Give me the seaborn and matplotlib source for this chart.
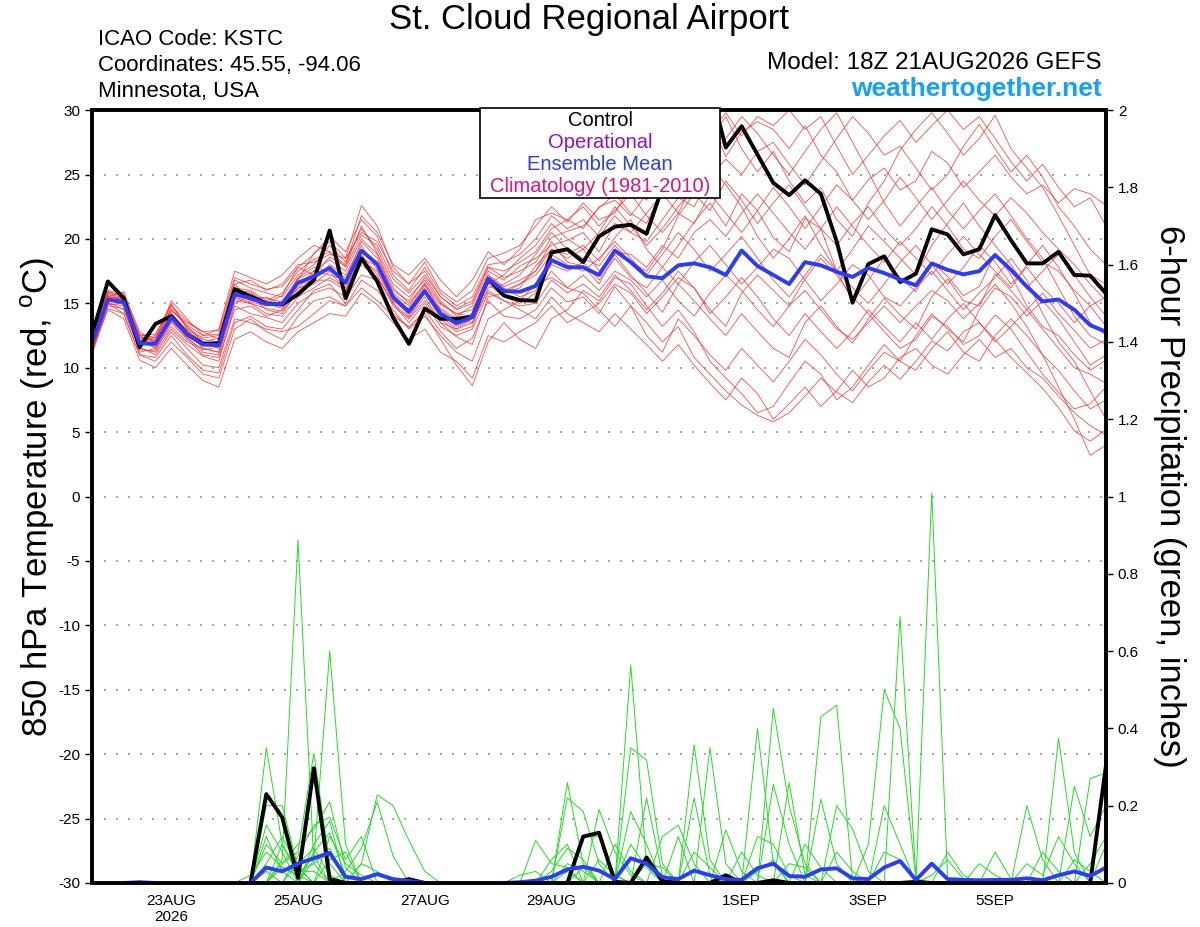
import matplotlib
matplotlib.use('Agg')
import matplotlib.pyplot as plt
from matplotlib.patches import Rectangle
import seaborn as sns
import pandas as pd

# 6-hourly GEFS output, 18Z 21AUG2026 + 16 days
times = pd.date_range('2026-08-21 18:00', periods=65, freq='6h')

tick_dates = ['2026-08-23', '2026-08-25', '2026-08-27', '2026-08-29',
              '2026-09-01', '2026-09-03', '2026-09-05']
tick_labels = ['23AUG\n2026', '25AUG', '27AUG', '29AUG', '1SEP', '3SEP', '5SEP']

temp_control = [
    12.6, 16.7, 15.4, 11.6, 13.4, 14.0, 12.6, 11.85, 11.9, 16.1,
    15.55, 15.0, 14.9, 15.7, 16.8, 20.65, 15.4, 18.5, 16.7, 13.9,
    11.85, 14.6, 13.8, 13.8, 13.95, 16.9, 15.6, 15.25, 15.2, 18.95,
    19.2, 18.2, 20.2, 20.95, 21.1, 20.4, 24.0, 27.5, 30.0, 31.8,
    27.1, 28.75, 26.55, 24.35, 23.4, 24.55, 23.5, 19.8, 15.05, 18.05,
    18.65, 16.65, 17.3, 20.75, 20.35, 18.8, 19.2, 21.85, 19.9, 18.1,
    18.1, 19.0, 17.2, 17.15, 15.75]

temp_mean = [
    11.9, 15.3, 15.1, 11.9, 11.85, 13.9, 12.6, 11.8, 11.75, 15.7,
    15.4, 14.95, 14.95, 16.6, 17.1, 17.75, 16.6, 19.1, 18.05, 15.5,
    14.35, 15.95, 14.2, 13.45, 13.95, 16.9, 15.95, 15.9, 16.35, 18.35,
    17.8, 17.8, 17.2, 19.1, 18.2, 17.1, 16.95, 17.95, 18.1, 17.8,
    17.2, 19.1, 17.9, 17.2, 16.5, 18.2, 17.95, 17.45, 17.05, 17.75,
    17.35, 16.85, 16.4, 18.1, 17.6, 17.25, 17.5, 18.75, 17.6, 16.3,
    15.15, 15.3, 14.5, 13.3, 12.8]

temp_members = [
    [11.5, 15.8, 15.4, 12.4, 12.0, 14.5, 13.2, 12.0, 12.3, 16.2, 16.0, 15.2, 15.8,
     17.5, 18.4, 19.0, 17.8, 20.3, 19.5, 16.9, 15.8, 17.2, 15.5, 14.6, 15.2, 17.8,
     17.0, 17.5, 18.2, 20.1, 20.6, 21.0, 22.4, 23.5, 22.0, 21.2, 23.8, 25.6, 27.9,
     29.2, 26.4, 28.3, 29.1, 28.5, 27.0, 28.8, 26.5, 25.2, 23.0, 24.6, 25.5, 23.8,
     24.5, 26.8, 25.9, 24.0, 25.2, 26.5, 24.8, 23.5, 24.2, 22.8, 23.9, 23.5, 22.6],
    [12.2, 14.8, 14.6, 11.5, 11.2, 13.0, 11.8, 10.9, 10.5, 14.8, 14.2, 13.9, 13.5,
     15.0, 15.8, 16.2, 15.5, 17.2, 16.8, 14.2, 13.1, 14.5, 12.8, 11.5, 12.3, 15.2,
     14.0, 13.8, 14.5, 16.2, 15.1, 15.5, 14.2, 16.3, 14.8, 13.5, 12.0, 13.2, 10.8,
     9.5, 8.2, 7.1, 6.3, 5.8, 6.5, 7.8, 9.2, 8.1, 7.3, 8.9, 10.2, 9.1,
     10.5, 12.1, 11.3, 12.8, 13.5, 12.2, 10.8, 9.6, 8.4, 6.9, 5.1, 4.3, 5.2],
    [11.0, 15.0, 14.2, 11.0, 10.8, 12.5, 11.0, 9.8, 9.6, 13.5, 14.0, 13.2, 13.0,
     14.5, 16.0, 16.5, 15.0, 18.2, 17.5, 15.0, 13.9, 15.5, 13.5, 12.4, 11.8, 15.5,
     15.8, 16.2, 17.9, 19.2, 18.8, 19.5, 18.3, 20.1, 21.5, 19.2, 17.8, 19.5, 21.3,
     22.8, 21.0, 23.5, 22.2, 20.1, 19.0, 21.6, 20.8, 17.5, 15.2, 16.8, 18.5, 17.0,
     15.9, 18.2, 17.1, 15.6, 16.3, 18.9, 17.2, 14.8, 13.2, 12.5, 11.0, 9.8, 10.6],
    [12.5, 15.5, 15.9, 12.6, 12.3, 14.8, 13.6, 12.8, 12.9, 17.0, 16.5, 16.1, 16.3,
     17.8, 17.2, 18.6, 17.9, 21.0, 18.9, 16.2, 15.0, 16.5, 14.9, 14.2, 14.5, 17.2,
     16.3, 16.8, 17.5, 19.8, 18.2, 17.9, 16.5, 18.8, 17.2, 15.8, 14.3, 16.5, 15.2,
     13.8, 12.5, 14.2, 12.8, 11.5, 10.8, 13.5, 14.8, 13.2, 11.9, 13.8, 15.4, 14.1,
     13.0, 15.5, 16.9, 15.2, 14.8, 17.3, 16.0, 14.5, 15.8, 14.2, 12.9, 11.5, 12.2],
    [11.8, 15.9, 15.6, 12.0, 11.6, 14.2, 12.9, 11.5, 11.2, 15.5, 15.1, 14.8, 15.2,
     16.8, 18.9, 19.8, 18.5, 22.6, 21.0, 17.8, 16.5, 18.2, 16.0, 15.1, 16.0, 18.5,
     18.9, 19.5, 21.0, 22.5, 21.3, 22.8, 21.5, 22.0, 24.2, 23.0, 25.8, 27.2, 26.0,
     27.8, 29.5, 27.0, 25.2, 26.8, 24.5, 22.8, 24.0, 21.5, 20.2, 22.8, 24.5, 26.9,
     28.5, 29.8, 28.2, 26.5, 27.8, 29.6, 27.0, 25.5, 24.0, 21.8, 19.5, 17.2, 16.5],
    [11.2, 14.5, 13.8, 10.6, 10.0, 11.5, 10.2, 9.0, 8.5, 12.2, 12.8, 12.0, 11.5,
     12.8, 13.5, 14.2, 14.0, 15.8, 14.9, 13.5, 12.2, 13.0, 11.2, 10.5, 9.2, 12.5,
     12.0, 12.8, 13.5, 14.8, 13.5, 14.2, 15.0, 16.5, 15.8, 14.2, 15.5, 17.0, 16.2,
     14.5, 13.2, 15.8, 17.2, 16.0, 14.8, 16.9, 18.5, 17.2, 15.5, 14.2, 12.8, 11.5,
     12.2, 14.0, 13.2, 11.8, 12.5, 14.1, 13.0, 11.2, 9.5, 8.1, 6.8, 7.2, 8.5],
    [12.0, 15.2, 15.0, 11.8, 11.9, 13.8, 12.4, 11.2, 11.0, 15.0, 15.6, 14.5, 14.2,
     16.0, 17.0, 17.8, 16.5, 19.0, 18.2, 15.6, 14.5, 16.2, 14.0, 13.0, 13.8, 16.5,
     15.5, 15.0, 15.8, 17.5, 16.2, 15.8, 14.5, 13.2, 14.8, 12.5, 11.2, 13.8, 12.5,
     11.0, 9.8, 11.5, 10.2, 8.9, 10.5, 12.2, 11.0, 9.5, 8.2, 9.8, 11.2, 10.5,
     12.5, 14.2, 13.0, 12.0, 14.5, 16.2, 15.5, 14.0, 15.2, 13.8, 12.0, 10.2, 11.0],
    [11.6, 15.6, 15.2, 12.2, 12.5, 15.0, 13.0, 12.2, 12.0, 16.5, 15.2, 15.5, 14.8,
     16.2, 17.5, 17.2, 16.8, 19.8, 18.5, 16.0, 15.2, 17.0, 15.2, 14.0, 14.8, 17.5,
     16.8, 17.9, 18.5, 19.5, 19.9, 20.5, 19.0, 21.2, 20.5, 19.8, 21.5, 23.2, 22.5,
     24.8, 26.2, 25.0, 26.8, 27.5, 25.8, 24.2, 26.0, 27.8, 29.5, 28.2, 26.5, 27.2,
     25.5, 23.8, 25.0, 27.2, 28.9, 27.0, 25.2, 26.5, 24.8, 22.5, 21.0, 19.2, 18.0],
    [12.3, 15.4, 15.5, 12.5, 12.0, 14.0, 12.7, 12.0, 11.8, 15.8, 15.2, 15.0, 14.6,
     16.5, 16.8, 18.0, 17.2, 19.5, 17.6, 15.2, 14.2, 16.0, 14.5, 13.6, 14.2, 17.0,
     16.2, 15.5, 16.0, 18.0, 17.5, 18.2, 16.8, 18.5, 17.0, 16.2, 17.8, 16.5, 18.2,
     19.5, 18.0, 16.5, 17.8, 19.2, 18.5, 16.8, 15.2, 16.5, 18.0, 17.2, 15.5, 14.8,
     16.2, 17.5, 16.0, 14.5, 15.8, 17.0, 18.5, 16.8, 14.2, 12.0, 10.5, 8.2, 6.0],
    [11.9, 15.0, 14.8, 11.2, 11.5, 13.2, 12.0, 11.5, 11.2, 15.2, 15.0, 14.2, 14.0,
     15.5, 16.2, 17.0, 16.2, 18.5, 17.9, 15.5, 14.0, 15.8, 13.8, 12.8, 13.2, 16.8,
     15.8, 16.5, 17.2, 18.8, 18.0, 17.5, 18.5, 19.8, 18.5, 17.2, 18.8, 20.5, 19.2,
     17.5, 18.8, 20.2, 18.5, 16.8, 15.5, 17.2, 18.8, 17.5, 16.2, 15.0, 16.5, 18.2,
     19.5, 18.0, 16.5, 17.8, 19.5, 18.2, 16.5, 17.8, 16.2, 15.0, 13.5, 14.8, 13.2],
    [12.1, 15.3, 15.0, 12.1, 11.8, 14.0, 12.5, 11.7, 12.0, 15.6, 15.8, 14.9, 15.0,
     17.0, 17.8, 17.5, 17.0, 19.2, 18.0, 15.2, 14.6, 16.4, 14.6, 13.8, 13.5, 16.2,
     16.5, 17.2, 18.8, 20.5, 19.2, 18.5, 17.9, 19.5, 18.2, 17.5, 19.2, 21.8, 23.5,
     22.2, 24.5, 23.0, 21.2, 22.8, 24.2, 22.5, 20.8, 19.5, 21.2, 22.5, 20.8, 19.5,
     20.8, 22.5, 21.0, 19.2, 18.5, 20.2, 21.5, 19.8, 18.2, 17.5, 16.0, 14.8, 15.5],
    [11.4, 14.9, 15.0, 11.6, 11.0, 12.8, 11.5, 10.2, 10.0, 13.8, 13.5, 13.0, 12.8,
     13.2, 14.2, 15.2, 14.8, 16.2, 15.2, 14.0, 13.2, 14.2, 12.2, 10.2, 8.6, 12.0,
     13.5, 12.2, 11.5, 13.8, 14.5, 16.0, 15.2, 17.0, 16.5, 14.8, 13.2, 14.5, 12.8,
     10.5, 9.2, 8.0, 6.5, 7.0, 8.8, 10.5, 9.5, 7.5, 8.5, 10.2, 11.8, 10.5,
     9.8, 11.5, 12.8, 11.2, 10.5, 12.5, 13.8, 12.5, 11.0, 9.8, 8.2, 6.8, 7.5],
    [12.4, 15.7, 15.3, 12.3, 12.2, 14.6, 13.3, 12.5, 12.6, 16.8, 16.2, 15.8, 15.5,
     17.2, 18.0, 19.5, 18.2, 20.8, 19.2, 16.5, 15.5, 16.8, 15.0, 14.2, 14.0, 16.5,
     17.2, 18.5, 19.5, 21.2, 20.0, 19.2, 20.5, 22.5, 21.0, 19.5, 20.8, 22.5, 24.0,
     25.8, 24.2, 22.5, 20.2, 18.5, 20.0, 21.8, 19.5, 17.5, 19.2, 21.0, 19.8, 18.5,
     17.2, 19.5, 21.2, 22.8, 21.0, 19.5, 18.0, 16.2, 17.5, 18.8, 17.2, 15.5, 14.0],
    [11.7, 15.1, 14.5, 11.4, 11.3, 13.5, 12.2, 11.0, 10.8, 14.5, 14.8, 14.0, 14.5,
     16.2, 16.5, 17.5, 16.0, 18.0, 17.0, 15.0, 13.5, 15.0, 13.2, 12.5, 13.0, 15.8,
     15.2, 14.5, 13.8, 15.5, 14.2, 13.5, 12.8, 14.2, 13.0, 11.8, 10.5, 11.8, 10.2,
     8.8, 7.5, 9.2, 8.0, 6.0, 7.2, 8.5, 7.0, 8.2, 9.8, 8.5, 9.2, 10.8,
     11.5, 10.2, 9.5, 11.0, 12.2, 10.8, 11.5, 10.0, 9.2, 7.8, 6.5, 5.5, 4.8],
    [12.0, 15.5, 15.3, 12.0, 12.1, 14.2, 12.9, 12.0, 11.5, 15.9, 15.5, 15.4, 15.1,
     16.9, 17.5, 18.4, 17.5, 20.0, 18.8, 15.8, 14.8, 16.6, 14.2, 13.2, 13.8, 17.2,
     16.0, 16.5, 17.5, 19.2, 18.5, 19.2, 17.5, 19.0, 18.8, 17.8, 19.5, 18.5, 20.5,
     21.5, 20.2, 22.0, 23.5, 22.0, 20.5, 19.2, 20.8, 22.5, 21.0, 19.5, 18.2, 19.8,
     18.5, 17.2, 18.8, 20.2, 18.8, 17.5, 16.2, 18.0, 19.5, 17.8, 15.8, 13.5, 12.5],
    [11.3, 15.2, 14.9, 11.9, 12.4, 14.4, 13.5, 12.8, 12.2, 16.0, 15.9, 15.0, 15.6,
     17.8, 18.8, 20.2, 19.0, 21.5, 20.2, 17.2, 16.0, 17.8, 15.8, 14.8, 15.5, 18.0,
     18.2, 18.8, 20.0, 21.8, 20.8, 21.5, 20.2, 21.8, 20.5, 22.0, 23.5, 22.0, 24.5,
     26.5, 27.8, 29.5, 28.2, 26.5, 25.0, 26.8, 28.5, 29.8, 27.5, 25.2, 22.8, 21.0,
     22.5, 24.0, 22.2, 20.8, 22.2, 23.5, 21.8, 20.0, 18.5, 16.2, 14.0, 12.5, 11.8],
    [11.5, 14.6, 14.2, 11.0, 10.5, 12.0, 10.8, 9.5, 9.2, 13.0, 13.8, 12.8, 12.2,
     14.0, 15.2, 15.5, 14.8, 16.8, 16.0, 14.5, 13.0, 14.0, 12.5, 11.2, 10.5, 13.8,
     14.5, 15.2, 16.5, 17.0, 16.2, 17.2, 16.0, 17.5, 16.8, 15.5, 16.8, 15.2, 14.0,
     15.8, 17.2, 16.0, 14.5, 13.2, 14.8, 16.0, 14.5, 13.0, 12.2, 13.5, 14.8, 13.5,
     14.8, 16.0, 15.2, 13.8, 15.0, 16.5, 15.0, 13.2, 11.0, 8.5, 6.0, 3.2, 4.0],
    [12.2, 16.0, 15.8, 12.8, 12.0, 15.2, 13.8, 12.5, 13.0, 17.5, 17.0, 16.5, 17.2,
     18.5, 19.5, 19.0, 18.0, 21.8, 20.5, 18.0, 17.2, 18.5, 16.8, 15.5, 16.8, 19.0,
     18.0, 19.2, 21.5, 22.0, 21.5, 20.8, 22.5, 23.0, 21.8, 23.5, 25.0, 24.0, 26.5,
     28.2, 29.8, 28.0, 29.5, 28.8, 30.0, 28.5, 29.5, 27.2, 25.0, 26.5, 28.0, 29.2,
     27.5, 28.8, 30.0, 28.5, 29.5, 27.8, 26.0, 24.5, 25.8, 24.0, 22.5, 23.2, 21.0],
    [11.8, 15.4, 15.1, 12.2, 11.5, 13.6, 12.3, 11.4, 11.6, 15.4, 15.0, 14.6, 14.4,
     15.8, 16.8, 16.8, 16.0, 18.8, 17.2, 14.8, 13.8, 15.2, 13.5, 13.0, 13.5, 16.0,
     15.2, 14.8, 15.0, 16.8, 15.8, 16.5, 15.5, 17.2, 16.0, 14.5, 15.8, 17.5, 16.2,
     14.2, 15.5, 17.0, 15.5, 13.8, 12.5, 14.2, 12.8, 11.5, 12.8, 14.5, 13.2, 12.0,
     13.5, 12.2, 13.8, 15.0, 13.5, 12.0, 13.2, 14.5, 13.0, 11.5, 10.0, 9.5, 8.8],
    [12.6, 15.9, 15.5, 12.5, 12.6, 14.9, 13.1, 12.3, 12.5, 16.5, 16.8, 16.0, 16.5,
     18.0, 18.2, 18.8, 18.5, 20.5, 19.8, 17.5, 16.5, 17.5, 15.5, 14.5, 15.0, 17.8,
     17.5, 18.2, 19.0, 20.8, 21.5, 22.5, 21.0, 22.2, 23.5, 21.8, 20.5, 22.0, 21.2,
     23.5, 22.0, 20.5, 22.2, 24.0, 22.5, 20.8, 22.5, 24.2, 23.0, 21.5, 23.0, 24.8,
     23.2, 21.5, 23.0, 24.5, 23.0, 21.8, 23.2, 22.0, 20.5, 19.2, 18.0, 16.5, 15.2],
]

precip_control = [
    0, 0, 0, 0, 0, 0, 0, 0, 0, 0,
    0, 0.23, 0.17, 0.013, 0.297, 0.01, 0, 0, 0, 0,
    0.01, 0, 0, 0, 0, 0, 0, 0, 0, 0,
    0, 0.12, 0.13, 0.003, 0, 0.066, 0.005, 0, 0, 0,
    0.02, 0, 0, 0.007, 0, 0, 0, 0, 0, 0,
    0, 0, 0.003, 0, 0, 0, 0, 0, 0, 0,
    0, 0, 0, 0, 0.305]

precip_mean = [
    0, 0, 0, 0.002, 0, 0, 0, 0, 0, 0,
    0, 0.04, 0.03, 0.05, 0.064, 0.078, 0.016, 0.01, 0.023, 0.01,
    0.005, 0, 0, 0, 0, 0, 0, 0.002, 0.006, 0.016,
    0.035, 0.042, 0.032, 0.01, 0.064, 0.05, 0.015, 0.01, 0.032, 0.02,
    0.01, 0.008, 0.038, 0.05, 0.018, 0.016, 0.035, 0.038, 0.012, 0.01,
    0.04, 0.057, 0.008, 0.05, 0.01, 0.008, 0.007, 0.008, 0.008, 0.012,
    0.007, 0.02, 0.03, 0.018, 0.04]

# non-zero 6-h amounts of each member, keyed by time step
precip_members = [
    {11: 0.35, 12: 0.1, 13: 0.02, 30: 0.26, 31: 0.05, 43: 0.452, 44: 0.2, 45: 0.05, 61: 0.375, 62: 0.08},
    {12: 0.06, 13: 0.887, 14: 0.05, 34: 0.564, 35: 0.05, 53: 1.01, 54: 0.01},
    {14: 0.06, 15: 0.6, 16: 0.1, 34: 0.35, 35: 0.318, 36: 0.05, 51: 0.69, 52: 0.01},
    {11: 0.1, 12: 0.05, 13: 0.08, 14: 0.336, 15: 0.05, 38: 0.357, 39: 0.06, 42: 0.4, 43: 0.05},
    {17: 0.05, 18: 0.228, 19: 0.2, 20: 0.11, 21: 0.03, 39: 0.35, 40: 0.05},
    {16: 0.03, 17: 0.09, 18: 0.21, 19: 0.07, 30: 0.22, 31: 0.185, 32: 0.05, 46: 0.43, 47: 0.46, 48: 0.01},
    {11: 0.2, 12: 0.2, 13: 0.04, 28: 0.11, 29: 0.05, 30: 0.04, 49: 0.1, 50: 0.5, 51: 0.4, 52: 0.01},
    {12: 0.05, 13: 0.1, 14: 0.14, 15: 0.21, 16: 0.04, 32: 0.19, 33: 0.08, 34: 0.02, 43: 0.255, 44: 0.1, 63: 0.27, 64: 0.285},
    {11: 0.15, 12: 0.08, 14: 0.1, 15: 0.16, 35: 0.22, 36: 0.02, 38: 0.22, 39: 0.02, 59: 0.2, 60: 0.06},
    {13: 0.07, 14: 0.15, 15: 0.17, 16: 0.06, 17: 0.12, 31: 0.12, 32: 0.12, 33: 0.02, 44: 0.26, 45: 0.02, 62: 0.25, 63: 0.12, 64: 0.2},
    {11: 0.12, 12: 0.03, 15: 0.06, 16: 0.08, 29: 0.03, 30: 0.09, 31: 0.06, 37: 0.12, 40: 0.137, 41: 0.03, 47: 0.2, 48: 0.14, 49: 0.03},
    {12: 0.1, 13: 0.03, 14: 0.05, 15: 0.09, 34: 0.185, 35: 0.1, 42: 0.12, 43: 0.1, 44: 0.02, 57: 0.08, 58: 0.01, 64: 0.1},
    {3: 0.005, 11: 0.05, 12: 0.12, 13: 0.04, 27: 0.02, 28: 0.03, 33: 0.1, 34: 0.03, 46: 0.217, 47: 0.05, 54: 0.08, 55: 0.02},
    {14: 0.08, 15: 0.13, 16: 0.02, 36: 0.12, 37: 0.15, 38: 0.05, 41: 0.08, 42: 0.02, 50: 0.2, 51: 0.1, 60: 0.08, 61: 0.03},
    {10: 0.02, 11: 0.08, 12: 0.04, 13: 0.03, 14: 0.03, 30: 0.05, 31: 0.03, 38: 0.08, 39: 0.04, 45: 0.1, 46: 0.04, 59: 0.05, 60: 0.02, 61: 0.12, 62: 0.05},
    {11: 0.03, 13: 0.05, 14: 0.09, 15: 0.02, 29: 0.06, 30: 0.1, 35: 0.05, 36: 0.04, 42: 0.03, 43: 0.06, 50: 0.08, 51: 0.06, 63: 0.05, 64: 0.12},
    {15: 0.12, 16: 0.05, 17: 0.02, 30: 0.03, 32: 0.06, 33: 0.02, 47: 0.08, 48: 0.03, 53: 0.02, 54: 0.06, 55: 0.01},
    {12: 0.04, 13: 0.02, 14: 0.07, 17: 0.05, 18: 0.03, 31: 0.04, 34: 0.1, 35: 0.04, 44: 0.05, 45: 0.04, 56: 0.05, 57: 0.02, 62: 0.06, 63: 0.03},
]

legend_labels = ['Control', 'Operational', 'Ensemble Mean', 'Climatology (1981-2010)']
legend_colors = ['black', '#8a12d8', '#2a3cff', '#e8107c']

# long tables for seaborn
temp_rows = []
for m, vals in enumerate(temp_members):
    for t, v in zip(times, vals):
        temp_rows.append((m, t, v))
temp_df = pd.DataFrame(temp_rows, columns=['member', 'time', 'temp'])

precip_rows = []
for m, amounts in enumerate(precip_members):
    for i, t in enumerate(times):
        precip_rows.append((m, t, amounts.get(i, 0.0)))
precip_df = pd.DataFrame(precip_rows, columns=['member', 'time', 'precip'])

lines_df = pd.DataFrame({'time': times, 'temp_control': temp_control, 'temp_mean': temp_mean,
                         'precip_control': precip_control, 'precip_mean': precip_mean})

sns.set_style('white')
plt.rcParams['font.family'] = ['Liberation Sans', 'DejaVu Sans']
plt.rcParams['mathtext.fontset'] = 'custom'
plt.rcParams['mathtext.rm'] = 'Liberation Sans'
plt.rcParams['axes.unicode_minus'] = False
plt.rcParams['text.color'] = 'black'
plt.rcParams['axes.labelcolor'] = 'black'

fig = plt.figure(figsize=(12, 9.27), dpi=100)
ax = fig.add_axes([0.0767, 0.0475, 0.845, 0.8337])
ax2 = ax.twinx()

# temperature (left axis)
sns.lineplot(data=temp_df, x='time', y='temp', units='member', estimator=None,
             color='#ff3030', lw=0.6, alpha=0.85, ax=ax, legend=False)
sns.lineplot(data=lines_df, x='time', y='temp_control', color='black', lw=2.8, ax=ax)
sns.lineplot(data=lines_df, x='time', y='temp_mean', color='#2a3cff', lw=2.8, ax=ax)

# precipitation (right axis)
sns.lineplot(data=precip_df, x='time', y='precip', units='member', estimator=None,
             color='#22dd22', lw=0.7, ax=ax2, legend=False)
sns.lineplot(data=lines_df, x='time', y='precip_control', color='black', lw=2.8, ax=ax2)
sns.lineplot(data=lines_df, x='time', y='precip_mean', color='#2a3cff', lw=2.8, ax=ax2)

ax.set_xlim(times[0], times[-1])
ax.set_ylim(-30, 30)
ax2.set_ylim(0, 2)
ax.set_yticks(range(-30, 31, 5))
ax2.set_yticks([0, 0.2, 0.4, 0.6, 0.8, 1, 1.2, 1.4, 1.6, 1.8, 2])
ax2.set_yticklabels(['0', '0.2', '0.4', '0.6', '0.8', '1', '1.2', '1.4', '1.6', '1.8', '2'])
ax.set_xticks(pd.to_datetime(tick_dates))
ax.set_xticklabels(tick_labels)

ax.yaxis.grid(True, linestyle=(0, (1.2, 6)), color='#999999', lw=1.2)
ax.xaxis.grid(False)
ax2.grid(False)

for a in (ax, ax2):
    for s in a.spines.values():
        s.set_linewidth(2.6)
        s.set_color('black')
    a.tick_params(axis='both', direction='out', length=5, width=1, labelsize=11,
                  colors='black', labelcolor='black')
ax.tick_params(axis='x', pad=3)

ax.set_xlabel('')
ax.set_ylabel(r'850 hPa Temperature (red, $^\mathrm{o}$C)', fontsize=25, labelpad=1)
ax2.set_ylabel('6-hour Precipitation (green, inches)', fontsize=25, rotation=-90, labelpad=34)

# legend box
ax2.add_patch(Rectangle((0.3826, 0.8862), 0.2367, 0.1164, transform=ax2.transAxes,
                        facecolor='white', edgecolor='black', lw=1.2, clip_on=False, zorder=10))
for k, (lab, col) in enumerate(zip(legend_labels, legend_colors)):
    ax2.text(0.501, 0.986 - k * 0.0281, lab, color=col, fontsize=14.5, ha='center', va='center',
             transform=ax2.transAxes, zorder=11)

# header
fig.text(0.491, 0.979, 'St. Cloud Regional Airport', fontsize=25, ha='center', va='center')
fig.text(0.0817, 0.957, 'ICAO Code: KSTC', fontsize=16, ha='left', va='center')
fig.text(0.0817, 0.929, 'Coordinates: 45.55, -94.06', fontsize=16, ha='left', va='center')
fig.text(0.0817, 0.901, 'Minnesota, USA', fontsize=16, ha='left', va='center')
fig.text(0.918, 0.932, 'Model: 18Z 21AUG2026 GEFS', fontsize=17.5, ha='right', va='center')
fig.text(0.918, 0.904, 'weathertogether.net', fontsize=19, fontweight='bold', color='#14a0ff',
         ha='right', va='center')

fig.savefig('out.png', dpi=100)
